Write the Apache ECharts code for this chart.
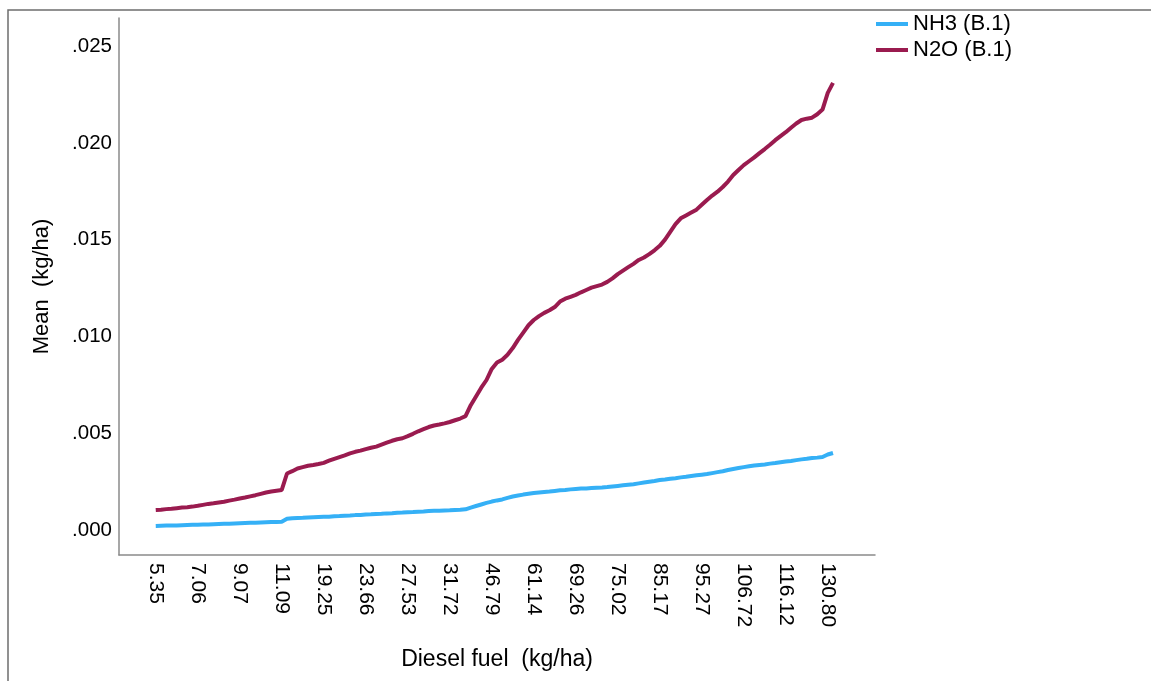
<!DOCTYPE html>
<html>
<head>
<meta charset="utf-8">
<script src="https://cdn.jsdelivr.net/npm/echarts@6/dist/echarts.min.js"></script>
<style>
  html, body { margin: 0; padding: 0; background: #ffffff; }
  #chart { width: 1151px; height: 681px; }
</style>
</head>
<body>
<div id="chart"></div>
<script>
// Diesel fuel categories (kg/ha), one per distinct observed value
const dieselFuel = [
  '5.35','5.49','5.70','5.91','6.16','6.35','6.60','6.81',
  '7.06','7.31','7.50','7.79','8.00','8.29','8.51','8.82',
  '9.07','9.30','9.60','9.81','10.11','10.32','10.60','10.83',
  '11.09','14.58','15.47','16.23','16.90','17.58','18.09','18.74',
  '19.25','19.84','20.30','20.95','21.45','22.03','22.54','23.12',
  '23.66','24.13','24.65','25.08','25.63','26.05','26.59','27.01',
  '27.53','28.07','28.52','29.10','29.58','30.15','30.62','31.20',
  '31.72','32.28','32.79','33.44','38.41','40.66','42.50','44.73',
  '46.79','48.62','50.55','52.34','54.23','55.94','57.76','59.41',
  '61.14','62.23','63.19','64.28','65.24','66.31','67.22','68.30',
  '69.26','69.95','70.74','71.40','72.18','72.84','73.61','74.27',
  '75.02','76.31','77.52','78.85','80.06','81.39','82.60','83.93',
  '85.17','86.40','87.72','88.92','90.25','91.45','92.77','93.98',
  '95.27','96.73','98.10','99.59','100.96','102.46','103.83','105.32',
  '106.72','107.86','109.10','110.21','111.45','112.56','113.80','114.91',
  '116.12','117.98','119.76','121.65','123.43','125.32','127.10','128.99',
  '130.80','134.12'
];

// Mean NH3 emission (kg/ha)
const nh3 = [
  .00021,.00022,.00023,.00023,.00024,.00025,.00026,.00027,
  .00027,.00028,.00029,.00030,.00031,.00032,.00033,.00034,
  .00035,.00036,.00037,.00038,.00039,.00040,.00041,.00042,
  .00043,.00058,.00061,.00062,.00063,.00065,.00066,.00067,
  .00068,.00069,.00071,.00072,.00074,.00075,.00077,.00078,
  .00080,.00081,.00083,.00084,.00086,.00087,.00089,.00090,
  .00092,.00093,.00095,.00096,.00098,.00099,.00100,.00101,
  .00102,.00104,.00105,.00107,.00116,.00124,.00132,.00140,
  .00147,.00153,.00158,.00166,.00173,.00178,.00183,.00187,
  .00191,.00194,.00197,.00199,.00202,.00205,.00207,.00210,
  .00212,.00214,.00215,.00217,.00219,.00220,.00222,.00225,
  .00228,.00231,.00234,.00237,.00241,.00245,.00249,.00253,
  .00258,.00261,.00265,.00268,.00272,.00275,.00279,.00283,
  .00286,.00289,.00294,.00299,.00304,.00310,.00315,.00320,
  .00325,.00329,.00333,.00336,.00339,.00343,.00346,.00350,
  .00354,.00357,.00361,.00365,.00368,.00372,.00374,.00377,
  .00390,.00398
];

// Mean N2O emission (kg/ha)
const n2o = [
  .00103,.00105,.00108,.00110,.00113,.00116,.00118,.00121,
  .00125,.00130,.00135,.00138,.00142,.00146,.00152,.00157,
  .00163,.00168,.00174,.00180,.00187,.00194,.00199,.00203,
  .00207,.00292,.00304,.00318,.00325,.00332,.00336,.00341,
  .00347,.00358,.00368,.00377,.00386,.00396,.00404,.00410,
  .00418,.00425,.00431,.00441,.00451,.00461,.00469,.00474,
  .00485,.00497,.00510,.00521,.00532,.00540,.00545,.00551,
  .00558,.00567,.00576,.00588,.00645,.00690,.00735,.00775,
  .00832,.00865,.00880,.00905,.00940,.00982,.01020,.01058,
  .01085,.01105,.01122,.01135,.01152,.01180,.01195,.01205,
  .01215,.01228,.01240,.01252,.01260,.01268,.01282,.01300,
  .01322,.01340,.01358,.01375,.01395,.01408,.01425,.01445,
  .01468,.01500,.01540,.01580,.01610,.01625,.01640,.01655,
  .01680,.01705,.01728,.01748,.01772,.01800,.01834,.01860,
  .01885,.01905,.01925,.01947,.01968,.01990,.02014,.02035,
  .02055,.02078,.02100,.02118,.02125,.02130,.02148,.02172,
  .02258,.02310
];

// Y-axis tick values
const yTicks = [0, .005, .010, .015, .020, .025];
// Every 8th diesel category carries a label
const labelStep = 8;

const seriesNames = ['NH3 (B.1)', 'N2O (B.1)'];
const colors = ['#35b0f6', '#9a1b4f'];
const FONT = '"Liberation Sans", Arial, sans-serif';

const chart = echarts.init(document.getElementById('chart'), null, { renderer: 'canvas' });

chart.setOption({
  animation: false,
  backgroundColor: '#ffffff',
  color: colors,
  textStyle: { fontFamily: FONT },
  graphic: [
    {
      // outer frame (top and left edges visible)
      type: 'rect',
      shape: { x: 8, y: 10, width: 1300, height: 800 },
      style: { fill: null, stroke: '#6e6e6e', lineWidth: 1.5 },
      silent: true
    }
  ],
  legend: {
    orient: 'vertical',
    left: 871,
    top: 8,
    itemWidth: 32,
    itemHeight: 4,
    itemGap: 4,
    icon: 'rect',
    textStyle: { fontSize: 22, color: '#000', fontFamily: FONT },
    data: seriesNames
  },
  grid: { left: 119, top: 18, right: 276, bottom: 126 },
  xAxis: {
    type: 'category',
    data: dieselFuel,
    boundaryGap: false,
    min: -7,
    max: 137,
    name: 'Diesel fuel  (kg/ha)',
    nameLocation: 'middle',
    nameGap: 93,
    nameTextStyle: { fontSize: 23, color: '#000', fontFamily: FONT },
    axisLine: { onZero: false, lineStyle: { color: '#8a8a8a', width: 1.5 } },
    axisTick: { show: false },
    splitLine: { show: false },
    axisLabel: {
      rotate: -90,
      margin: 8,
      fontSize: 21,
      color: '#000',
      fontFamily: FONT,
      interval: function (idx) { return idx >= 0 && idx < dieselFuel.length && idx % labelStep === 0; }
    }
  },
  yAxis: {
    type: 'value',
    min: -0.00129,
    max: 0.02645,
    name: 'Mean  (kg/ha)',
    nameLocation: 'middle',
    nameGap: 66,
    nameRotate: 90,
    nameTextStyle: { fontSize: 22, color: '#000', fontFamily: FONT },
    axisLine: { show: true, onZero: false, lineStyle: { color: '#8a8a8a', width: 1.5 } },
    axisTick: { show: false },
    splitLine: { show: false },
    axisLabel: {
      margin: 7,
      fontSize: 20.5,
      color: '#000',
      fontFamily: FONT,
      customValues: yTicks,
      formatter: function (v) { return v.toFixed(3).replace(/^0/, ''); }
    }
  },
  series: [
    {
      name: seriesNames[0],
      type: 'line',
      data: nh3,
      showSymbol: false,
      lineStyle: { width: 4, color: colors[0] },
      itemStyle: { color: colors[0] }
    },
    {
      name: seriesNames[1],
      type: 'line',
      data: n2o,
      showSymbol: false,
      lineStyle: { width: 4, color: colors[1] },
      itemStyle: { color: colors[1] }
    }
  ]
});
</script>
</body>
</html>
